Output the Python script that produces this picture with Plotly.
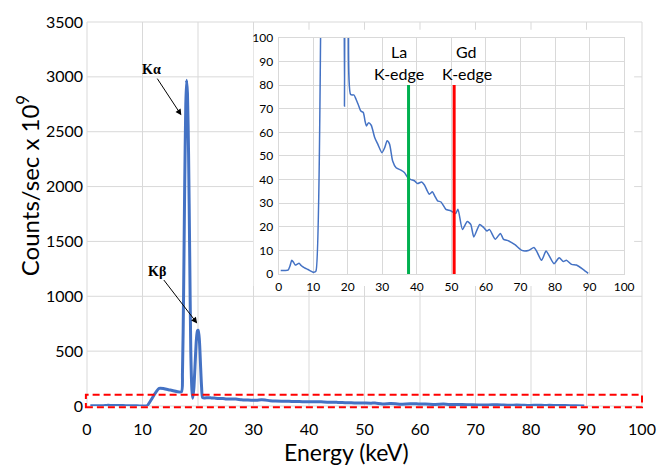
import plotly.graph_objects as go

# Measured spectrum: photon energy (keV) and count rate (counts/sec x 1e9)
energy_kev = [
    0.6, 1.5, 2.7, 3.3, 3.8, 4.3, 4.8, 5.4, 5.9, 6.5, 7.5, 8.5, 9.5, 10.2, 10.8,
    13.0, 15.0, 17.0, 17.2, 17.4, 17.6, 17.8, 17.95, 18.1, 18.3, 18.5, 18.7, 18.9,
    19.05, 19.25, 19.45, 19.7, 19.9, 20.05, 20.25, 20.45, 20.65, 20.85,
    21.8, 22.4, 23.0, 23.8, 24.5, 25.0, 25.4, 26.0, 26.8, 27.8, 28.7, 29.9, 30.7,
    31.4, 32.1, 33.0, 34.0, 35.4, 36.4, 37.4, 38.3, 39.3, 40.2, 41.4, 42.2, 43.6,
    44.5, 45.2, 46.0, 47.0, 48.4, 49.8, 51.2, 51.9, 53.2, 54.6, 55.6, 56.5, 58.2,
    59.4, 60.3, 61.0, 62.7, 64.2, 65.1, 66.6, 68.5, 70.4, 72.3, 73.9, 74.7, 76.1,
    77.4, 78.5, 79.7, 81.2, 82.4, 83.3, 84.8, 86.2, 88.1, 89.6,
]
counts = [
    1.5, 1.5, 1.6, 3.5, 5.8, 5.0, 3.8, 4.2, 4.6, 3.6, 2.6, 1.9, 1.1, 0.7, 1.2,
    160, 145, 129, 300, 1000, 2000, 2750, 2970, 2850, 2300, 1400, 500, 150,
    71, 160, 350, 600, 685, 690, 600, 380, 170, 76,
    75.8, 74, 71.9, 69, 68.4, 64.8, 62.7, 64, 63, 57.8, 55, 51.4, 53.5,
    56.4, 55, 47.9, 45, 44, 43, 40.8, 40, 39.5, 38.3, 39, 37.7, 33.8,
    34.8, 33, 31, 30.5, 27.4, 26.8, 25.6, 27.4, 18.9, 22.2, 21, 15.7, 21,
    19.6, 18.2, 18.9, 14.7, 17.2, 14.7, 14, 12.3, 10, 10, 11.2, 9.6, 5.8,
    9.7, 7.2, 4.4, 6.9, 5.3, 5.8, 4.1, 3.8, 2, 0.3,
]

# K-edge markers drawn in the zoomed panel
edge_names = ["La", "Gd"]
edge_energy = [37.6, 50.8]
edge_height = [80, 80]
edge_colors = ["#00B050", "#FF0000"]

# Peak labels: name, label position, arrow tip
peak_names = ["Kα", "Kβ"]
peak_label_pos = [(11.6, 3066), (12.6, 1230)]
peak_arrow_tip = [(17.0, 2650), (19.85, 753)]

# Axis ticks
main_xticks = list(range(0, 101, 10))
main_yticks = list(range(0, 3501, 500))
zoom_xticks = list(range(0, 101, 10))
zoom_yticks = list(range(0, 101, 10))

MAIN_X = [0, 100]
MAIN_Y = [0, 3500]
ZOOM_Y = [0, 100]

# Window of counts shown enlarged in the zoomed panel (dashed box)
window_lo, window_hi = -12, 102

FONT = "Lato"
LINE_BLUE = "#4472C4"
GRID = "#D9D9D9"

# zoomed panel placement (fractions of the main plot area)
ZX = [0.3453, 0.9678]
ZY = [0.3437, 0.9587]
PANEL_PAD = dict(l=0.045, r=0.018, b=0.031, t=0.021)


def fx(e):
    return (e - MAIN_X[0]) / (MAIN_X[1] - MAIN_X[0])


def fy(v):
    return (v - MAIN_Y[0]) / (MAIN_Y[1] - MAIN_Y[0])


fig = go.Figure()

fig.add_trace(go.Scatter(
    x=energy_kev, y=counts, mode="lines",
    line=dict(color=LINE_BLUE, width=3, shape="spline", smoothing=0.6),
    xaxis="x", yaxis="y", showlegend=False, hoverinfo="skip",
))

fig.add_trace(go.Scatter(
    x=energy_kev, y=counts, mode="lines",
    line=dict(color=LINE_BLUE, width=1.5, shape="spline", smoothing=0.6),
    xaxis="x2", yaxis="y2", showlegend=False, hoverinfo="skip",
))

for name, e, h, c in zip(edge_names, edge_energy, edge_height, edge_colors):
    fig.add_trace(go.Scatter(
        x=[e, e], y=[0, h], mode="lines",
        line=dict(color=c, width=3),
        xaxis="x2", yaxis="y2", showlegend=False, hoverinfo="skip",
    ))

shapes = []
# main grid (drawn as shapes so the zoom panel can sit on top of it)
for t in main_xticks:
    shapes.append(dict(type="line", xref="paper", yref="paper", layer="below",
                       x0=fx(t), x1=fx(t), y0=0, y1=1,
                       line=dict(color=GRID, width=1)))
for t in main_yticks:
    shapes.append(dict(type="line", xref="paper", yref="paper", layer="below",
                       x0=0, x1=1, y0=fy(t), y1=fy(t),
                       line=dict(color=GRID, width=1)))
# white panel behind the zoomed plot
shapes.append(dict(type="rect", xref="paper", yref="paper", layer="below",
                   x0=ZX[0] - PANEL_PAD["l"], x1=ZX[1] + PANEL_PAD["r"],
                   y0=ZY[0] - PANEL_PAD["b"], y1=ZY[1] + PANEL_PAD["t"],
                   fillcolor="white", line=dict(width=0)))
# dashed box marking the enlarged range
shapes.append(dict(type="rect", xref="paper", yref="paper", layer="above",
                   x0=fx(MAIN_X[0]) - 0.002, x1=fx(MAIN_X[1]),
                   y0=fy(window_lo), y1=fy(window_hi),
                   line=dict(color="#FF0000", width=2, dash="7px,4px"),
                   fillcolor="rgba(0,0,0,0)"))

annotations = [
    dict(text="Energy (keV)", xref="paper", yref="paper", x=0.467, y=-0.121,
         xanchor="center", yanchor="middle", showarrow=False,
         font=dict(family=FONT, size=23, color="black")),
    dict(text="Counts/sec x 10<sup>9</sup>", xref="paper", yref="paper",
         x=-0.107, y=0.574, textangle=-90, xanchor="center", yanchor="middle",
         showarrow=False, font=dict(family=FONT, size=24, color="black")),
]
# peak labels with arrows pointing at the lines
for name, (lx, ly), (tx, ty) in zip(peak_names, peak_label_pos, peak_arrow_tip):
    annotations.append(dict(
        text=f"<b>{name}</b>", x=tx, y=ty, ax=lx, ay=ly,
        xref="x", yref="y", axref="x", ayref="y",
        showarrow=True, arrowhead=2, arrowsize=1.2, arrowwidth=1,
        arrowcolor="black", standoff=0,
        font=dict(family="Liberation Serif", size=14, color="black"),
    ))

# K-edge labels in the zoomed panel
label_x = [34.8, 54.4]
for name, lx in zip(edge_names, label_x):
    annotations.append(dict(text=name, x=lx, y=94.2, xref="x2", yref="y2",
                            showarrow=False,
                            font=dict(family=FONT, size=16, color="black")))
    annotations.append(dict(text="K-edge", x=lx, y=85.0, xref="x2", yref="y2",
                            showarrow=False,
                            font=dict(family=FONT, size=16, color="black")))

fig.update_layout(
    width=668, height=466,
    margin=dict(l=87, r=22, t=19, b=60),
    paper_bgcolor="white", plot_bgcolor="white",
    font=dict(family=FONT, color="black"),
    shapes=shapes, annotations=annotations,
    xaxis=dict(range=MAIN_X, tickvals=main_xticks, showgrid=False,
               zeroline=False, showline=False, ticks="",
               tickfont=dict(family=FONT, size=16, color="black"),
               ticklabelstandoff=12, domain=[0, 1]),
    yaxis=dict(range=MAIN_Y, tickvals=main_yticks, showgrid=False,
               zeroline=False, showline=False, ticks="",
               tickfont=dict(family=FONT, size=16, color="black"),
               ticklabelstandoff=3, domain=[0, 1]),
    xaxis2=dict(range=MAIN_X, tickvals=zoom_xticks, domain=ZX, anchor="y2",
                showgrid=True, gridcolor=GRID, gridwidth=1, zeroline=False,
                showline=True, linecolor=GRID, mirror=True, ticks="",
                tickfont=dict(family=FONT, size=12, color="black"),
                ticklabelstandoff=2),
    yaxis2=dict(range=ZOOM_Y, tickvals=zoom_yticks, domain=ZY, anchor="x2",
                showgrid=True, gridcolor=GRID, gridwidth=1, zeroline=False,
                showline=True, linecolor=GRID, mirror=True, ticks="",
                tickfont=dict(family=FONT, size=12, color="black"),
                ticklabelstandoff=2),
)

fig.write_html("out.html")
